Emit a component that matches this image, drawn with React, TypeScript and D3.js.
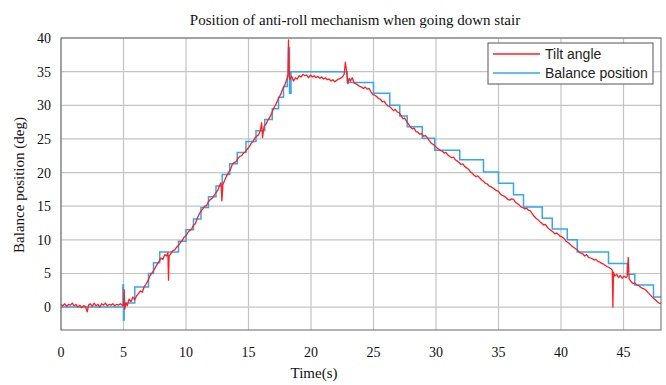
import React from "react";
import * as d3 from "d3";

const xTicks = [0, 5, 10, 15, 20, 25, 30, 35, 40, 45];
const yTicks = [0, 5, 10, 15, 20, 25, 30, 35, 40];
const seriesNames = ["Tilt angle", "Balance position"];
const seriesColors = ["#ff1f1f", "#35a6f2"];

const tiltAngle: [number, number][] = [
  [0,0.4],[0.15,0.2],[0.3,0.5],[0.45,0.1],[0.6,0.4],[0.75,0.3],[0.9,0.6],[1.05,0.2],[1.2,0.4],[1.35,0.0],[1.5,0.3],[1.65,-0.1],[1.8,0.2],[1.95,0.1],[2.1,-0.7],[2.2,0.3],[2.35,0.5],[2.5,0.1],[2.65,0.6],[2.8,0.2],[2.95,0.4],[3.1,0.0],[3.25,0.5],[3.4,0.3],[3.55,0.6],[3.7,0.2],[3.85,0.4],[4.0,0.3],[4.15,0.5],[4.3,0.2],[4.45,0.4],[4.6,0.3],[4.75,0.5],[4.9,0.3],
  [5.0,0.2],[5.05,2.6],[5.1,-0.3],[5.2,0.6],[5.3,0.2],[5.45,1.2],[5.6,0.8],[5.75,1.5],[5.9,1.1],[6.05,1.7],[6.2,2.0],[6.35,2.4],[6.5,2.2],[6.65,3.0],[6.8,3.4],[6.95,3.9],[7.1,4.6],[7.25,5.0],[7.4,5.4],[7.55,5.9],[7.7,6.4],[7.85,6.8],[8.0,7.3],[8.15,7.1],[8.3,7.8],[8.45,7.6],[8.55,8.1],[8.6,4.0],[8.65,7.6],[8.8,8.0],[8.95,8.4],[9.1,8.5],[9.25,8.9],[9.4,9.2],[9.55,9.6],[9.7,9.9],[9.85,10.4],[10.0,10.6],[10.15,11.1],[10.3,11.4],[10.45,11.6],[10.6,12.2],[10.75,12.4],[10.9,13.2],[11.05,13.8],[11.2,14.3],[11.35,14.6],[11.5,15.0],[11.65,15.1],[11.8,15.7],[11.95,16.0],[12.1,16.2],[12.25,16.6],[12.4,17.0],[12.55,17.4],[12.7,18.1],[12.8,18.5],[12.87,15.8],[12.95,18.2],[13.1,18.9],[13.25,19.5],[13.4,20.0],[13.55,20.4],[13.7,21.2],[13.85,21.5],[14.0,21.6],[14.15,22.1],[14.3,22.4],[14.45,22.5],[14.6,22.9],[14.75,23.1],[14.9,23.5],[15.05,23.8],[15.2,24.3],[15.35,24.6],[15.5,25.1],[15.65,25.4],[15.8,25.6],[15.95,26.3],[16.05,27.4],[16.12,25.2],[16.25,26.9],[16.4,27.2],[16.55,27.8],[16.7,28.2],[16.85,28.8],[17.0,29.5],[17.15,30.0],[17.3,30.6],[17.45,31.2],[17.6,31.7],[17.75,32.5],[17.9,33.0],[18.05,33.8],[18.15,34.2],[18.2,39.7],[18.25,35.5],[18.3,33.8],[18.45,34.3],[18.6,33.6],[18.75,34.1],[18.9,33.9],[19.05,34.4],[19.2,34.2],[19.35,34.6],[19.5,34.4],[19.65,34.5],[19.8,34.1],[19.95,34.5],[20.1,34.2],[20.25,34.4],[20.4,34.1],[20.55,34.3],[20.7,34.0],[20.85,34.2],[21.0,33.9],[21.15,34.1],[21.3,33.8],[21.45,33.9],[21.6,33.6],[21.75,33.8],[21.9,33.5],[22.05,33.7],[22.2,33.9],[22.35,34.0],[22.5,34.2],[22.65,34.6],[22.75,36.4],[22.85,35.0],[22.95,33.2],[23.05,34.0],[23.15,33.6],[23.3,34.1],[23.45,33.3],[23.6,33.2],[23.75,33.0],[23.9,32.8],[24.05,32.7],[24.2,32.5],[24.35,32.7],[24.5,32.4],[24.65,32.5],[24.8,32.0],[24.95,31.6],[25.1,31.5],[25.25,31.3],[25.4,31.0],[25.55,30.9],[25.7,30.5],[25.85,30.6],[26.0,30.2],[26.15,29.9],[26.3,29.8],[26.45,29.5],[26.6,29.2],[26.75,29.4],[26.9,29.0],[27.05,28.9],[27.2,28.5],[27.35,28.0],[27.5,28.1],[27.65,27.6],[27.8,27.2],[27.95,26.8],[28.1,26.5],[28.25,26.6],[28.4,26.1],[28.55,26.0],[28.7,25.7],[28.85,25.8],[29.0,25.4],[29.15,25.5],[29.3,25.2],[29.45,24.8],[29.6,24.4],[29.75,24.2],[29.9,24.0],[30.05,23.7],[30.2,23.5],[30.35,23.3],[30.5,23.2],[30.65,22.9],[30.8,23.0],[30.95,22.6],[31.1,22.4],[31.25,22.2],[31.4,22.3],[31.55,21.9],[31.7,21.7],[31.85,21.5],[32.0,21.2],[32.15,21.3],[32.3,20.9],[32.45,20.7],[32.6,20.5],[32.75,20.1],[32.9,19.9],[33.05,19.6],[33.2,19.4],[33.35,19.5],[33.5,19.2],[33.65,18.9],[33.8,18.7],[33.95,18.4],[34.1,18.3],[34.25,18.0],[34.4,17.9],[34.55,17.7],[34.7,17.5],[34.85,17.3],[35.0,17.2],[35.15,16.8],[35.3,16.6],[35.45,16.5],[35.6,16.3],[35.75,16.0],[35.9,15.9],[36.05,16.1],[36.2,16.0],[36.35,15.6],[36.5,15.4],[36.65,15.2],[36.8,14.9],[36.95,14.8],[37.1,14.6],[37.25,14.7],[37.4,14.4],[37.55,14.3],[37.7,13.9],[37.85,13.5],[38.0,13.2],[38.15,13.0],[38.3,12.7],[38.45,12.5],[38.6,12.2],[38.75,12.3],[38.9,11.9],[39.05,11.6],[39.2,11.4],[39.35,11.2],[39.5,10.9],[39.65,11.0],[39.8,10.8],[39.95,10.5],[40.1,10.4],[40.25,10.2],[40.4,9.8],[40.55,9.6],[40.7,9.4],[40.85,9.1],[41.0,8.9],[41.15,8.7],[41.3,8.5],[41.45,8.2],[41.6,8.0],[41.75,7.9],[41.9,7.6],[42.05,7.8],[42.2,7.4],[42.35,7.3],[42.5,7.2],[42.65,7.0],[42.8,7.1],[42.95,6.8],[43.1,6.7],[43.25,6.5],[43.4,6.4],[43.55,6.2],[43.7,6.0],[43.85,5.9],[44.0,5.7],[44.1,5.5],[44.15,0.0],[44.2,5.2],[44.3,4.6],[44.45,4.9],[44.6,4.4],[44.75,4.7],[44.9,4.3],[45.05,4.6],[45.2,4.4],[45.3,4.6],[45.38,7.4],[45.45,4.2],[45.6,3.8],[45.75,3.5],[45.9,3.6],[46.05,3.3],[46.2,3.2],[46.35,3.0],[46.5,2.8],[46.65,2.7],[46.8,2.5],[46.95,2.2],[47.1,1.9],[47.25,1.6],[47.4,1.3],[47.55,1.1],[47.7,0.8],[47.85,0.6],[48.0,0.5]
];

const balancePosition: [number, number][] = [
  [0,0],[4.92,0],[4.95,3.3],[5.0,-1.9],[5.05,0.6],[5.9,3.0],[7.0,5.0],[7.4,6.6],[7.9,8.2],[9.4,9.8],[10.0,11.5],[10.6,13.1],[11.2,14.8],[11.8,16.4],[12.4,18.0],[12.9,19.7],[13.5,21.3],[14.1,23.0],[14.8,24.6],[15.6,26.2],[16.3,27.9],[16.9,29.5],[17.4,31.2],[17.8,32.8],[18.1,34.4],[18.2,38.5],[18.28,31.8],[18.4,35.0],[22.9,33.4],[25.0,31.8],[26.3,30.0],[27.1,28.4],[27.7,26.8],[28.9,25.1],[29.9,23.3],[31.9,21.9],[33.8,20.1],[35.0,18.4],[36.2,16.7],[37.0,14.9],[38.5,13.2],[39.3,11.6],[40.5,10.0],[41.3,8.2],[43.8,6.5],[45.3,4.9],[45.9,3.3],[47.4,1.5],[48,1.5]
];

const W = 666, H = 385;
const M = { left: 61, right: 661, top: 38, bottom: 330 };
const serif = "'Liberation Serif', 'Times New Roman', serif";
const sans = "'Liberation Sans', Arial, sans-serif";

export default function App() {
  const x = d3.scaleLinear().domain([0, 48]).range([M.left, M.right]);
  const y = d3.scaleLinear().domain([-3.4, 40]).range([M.bottom, M.top]);
  const redLine = d3.line<[number, number]>().x(d => x(d[0])).y(d => y(d[1]));
  const blueLine = d3.line<[number, number]>().x(d => x(d[0])).y(d => y(d[1])).curve(d3.curveStepAfter);

  return (
    <svg width={W} height={H} style={{ position: "absolute", left: 0, top: 0, background: "#fff" }}>
      <rect x={0} y={0} width={W} height={H} fill="#fff" />
      {xTicks.map(t => (
        <line key={"gx" + t} x1={x(t)} x2={x(t)} y1={M.top} y2={M.bottom} stroke="#c4c4c4" strokeWidth={1.2} />
      ))}
      {yTicks.map(t => (
        <line key={"gy" + t} x1={M.left} x2={M.right} y1={y(t)} y2={y(t)} stroke="#c4c4c4" strokeWidth={1.2} />
      ))}
      <path d={blueLine(balancePosition) || ""} fill="none" stroke={seriesColors[1]} strokeWidth={1.5} />
      <path d={redLine(tiltAngle) || ""} fill="none" stroke={seriesColors[0]} strokeWidth={1.3} strokeLinejoin="round" />
      <rect x={M.left} y={M.top} width={M.right - M.left} height={M.bottom - M.top} fill="none" stroke="#666" strokeWidth={1} />
      {xTicks.map(t => (
        <text key={"tx" + t} x={x(t)} y={357} textAnchor="middle" fontFamily={serif} fontSize={14} fill="#111">{t}</text>
      ))}
      {yTicks.map(t => (
        <text key={"ty" + t} x={51} y={y(t) + 5} textAnchor="end" fontFamily={serif} fontSize={14} fill="#111">{t}</text>
      ))}
      <text x={355} y={25} textAnchor="middle" fontFamily={serif} fontSize={15} fill="#111">Position of anti-roll  mechanism  when going down stair</text>
      <text x={314} y={378} textAnchor="middle" fontFamily={serif} fontSize={15} fill="#111">Time(s)</text>
      <text transform={`translate(24,185) rotate(-90)`} textAnchor="middle" fontFamily={serif} fontSize={15} fill="#111">Balance position (deg)</text>
      <g>
        <rect x={488} y={43} width={165} height={41} fill="#fff" stroke="#555" strokeWidth={1} />
        {seriesNames.map((n, i) => (
          <g key={n}>
            <line x1={493} x2={540} y1={54 + i * 19} y2={54 + i * 19} stroke={seriesColors[i]} strokeWidth={1.3} />
            <text x={545} y={59 + i * 19} fontFamily={sans} fontSize={14} fill="#222">{n}</text>
          </g>
        ))}
      </g>
    </svg>
  );
}
